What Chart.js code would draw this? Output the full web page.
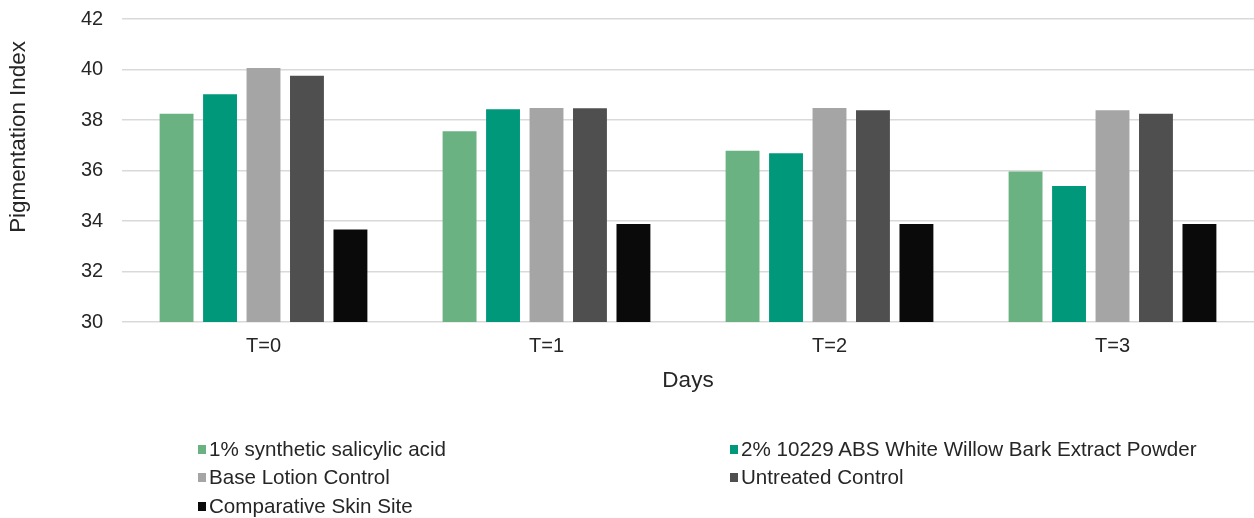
<!DOCTYPE html>
<html>
<head>
<meta charset="utf-8">
<script src="https://cdn.jsdelivr.net/npm/chart.js@4/dist/chart.umd.min.js"></script>
<style>
  html, body { margin: 0; padding: 0; background: #fff; }
  #wrap { position: relative; width: 1254px; height: 518px; overflow: hidden; }
  #c { position: absolute; left: 0; top: 0; }
  #legend { position: absolute; left: 0; top: 0; width: 1254px; height: 518px; pointer-events: none;
    font-family: "Liberation Sans", Arial, sans-serif; font-size: 20.6px; color: #262626; }
  .item { position: absolute; white-space: nowrap; line-height: 24px; height: 24px; }
  .box { position: absolute; left: 0; top: 8px; width: 8px; height: 9px; }
  .txt { position: absolute; left: 11px; top: 0; }
</style>
</head>
<body>
<div id="wrap">
  <canvas id="c" width="1254" height="518"></canvas>
  <div id="legend"></div>
</div>
<script>
const categories = ["T=0", "T=1", "T=2", "T=3"];
const seriesNames = [
  "1% synthetic salicylic acid",
  "2% 10229 ABS White Willow Bark Extract Powder",
  "Base Lotion Control",
  "Untreated Control",
  "Comparative Skin Site"
];
const salicylic = [38.25, 37.55, 36.78, 35.96];
const willowBark = [39.02, 38.43, 36.68, 35.39];
const baseLotion = [40.06, 38.48, 38.48, 38.39];
const untreated = [39.75, 38.47, 38.39, 38.25];
const comparative = [33.66, 33.88, 33.88, 33.88];
const seriesColors = ["#6ab282", "#00987a", "#a5a5a5", "#4f4f4f", "#0a0a0a"];
const yTicks = [30, 32, 34, 36, 38, 40, 42];
const yTitle = "Pigmentation Index";
const xTitle = "Days";

const allValues = [salicylic, willowBark, baseLotion, untreated, comparative];
const FONT = '"Liberation Sans", Arial, sans-serif';
const TEXT = '#262626';

// Y-axis title drawn beside the axis, placed as in the reference
const yTitlePlugin = {
  id: 'yTitlePlugin',
  afterDraw(chart) {
    const ctx = chart.ctx;
    ctx.save();
    ctx.translate(18.5, 137);
    ctx.rotate(-Math.PI / 2);
    ctx.font = '22.4px ' + FONT;
    ctx.fillStyle = TEXT;
    ctx.textAlign = 'center';
    ctx.textBaseline = 'middle';
    ctx.fillText(yTitle, 0, 0);
    ctx.restore();
  }
};

const chart = new Chart(document.getElementById('c'), {
  type: 'bar',
  data: {
    labels: categories,
    datasets: allValues.map((vals, i) => ({
      label: seriesNames[i],
      data: vals,
      backgroundColor: seriesColors[i],
      borderWidth: 0,
      categoryPercentage: 0.768,
      barPercentage: 0.78
    }))
  },
  options: {
    responsive: false,
    animation: false,
    layout: { padding: { left: 81, right: 0, top: 0, bottom: 116 } },
    plugins: { legend: { display: false }, tooltip: { enabled: false } },
    scales: {
      x: {
        grid: { display: false, drawTicks: false },
        border: { display: false },
        ticks: { color: TEXT, font: { family: FONT, size: 20 }, padding: 12 },
        title: { display: true, text: xTitle, color: TEXT, font: { family: FONT, size: 22.5 }, padding: { top: 4, bottom: 7.5 } },
        afterFit: s => { s.height = 80; }
      },
      y: {
        min: 30, max: 42,
        afterBuildTicks: s => { s.ticks = yTicks.map(v => ({ value: v })); },
        grid: { color: '#d9d9d9', lineWidth: 1.5, drawTicks: false },
        border: { display: false },
        ticks: { color: TEXT, font: { family: FONT, size: 20 }, padding: 7, crossAlign: 'far' },
        title: { display: false },
        afterFit: s => { s.width = 41; }
      }
    }
  },
  plugins: [yTitlePlugin]
});

// HTML legend laid out in two columns, as in the reference
const legend = document.getElementById('legend');
const colX = [198, 730];
const rowY = [436.5, 465, 493.5];
chart.data.datasets.forEach((ds, i) => {
  const d = document.createElement('div');
  d.className = 'item';
  d.style.left = colX[i % 2] + 'px';
  d.style.top = rowY[Math.floor(i / 2)] + 'px';
  const box = document.createElement('span');
  box.className = 'box';
  box.style.background = ds.backgroundColor;
  const t = document.createElement('span');
  t.className = 'txt';
  t.textContent = ds.label;
  d.appendChild(box);
  d.appendChild(t);
  legend.appendChild(d);
});
</script>
</body>
</html>
